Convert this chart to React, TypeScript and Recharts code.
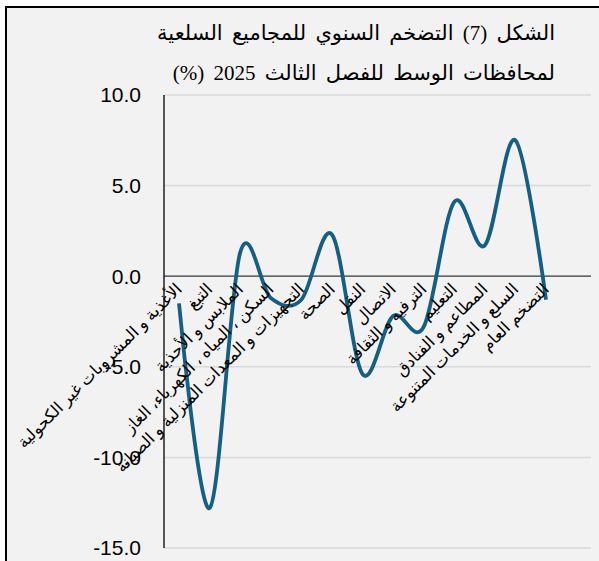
import React from "react";
import { LineChart, Line, XAxis, YAxis, CartesianGrid, ReferenceLine, ReferenceDot } from "recharts";

// categories (right-to-left reading order as in the source sheet)
const categories = [
  "الأغذية و المشروبات غير الكحولية",
  "التبغ",
  "الملابس و الأحذية",
  "السكن ، المياه ، الكهرباء، الغاز",
  "التجهيزات و المعدات المنزلية و الصيانة",
  "الصحة",
  "النقل",
  "الاتصال",
  "الترفيه و الثقافة",
  "التعليم",
  "المطاعم و الفنادق",
  "السلع و الخدمات المتنوعة",
  "التضخم العام",
];

// annual inflation (%)
const inflation = [-1.5, -12.8, 1.3, -1.2, -1.3, 2.3, -5.4, -2.2, -2.8, 4.1, 1.7, 7.5, -1.3];

const yTicks = [10, 5, 0, -5, -10, -15];

const titleLines = [
  "الشكل (7) التضخم السنوي للمجاميع السلعية",
  "لمحافظات الوسط للفصل الثالث 2025 (%)",
];

const data = categories.map((name, i) => ({ name, value: inflation[i] }));

// Excel style smoothed line (cardinal spline, tension 0)
const excelSmooth = (context: any) => {
  let x0 = NaN, x1 = NaN, x2 = NaN, y0 = NaN, y1 = NaN, y2 = NaN;
  let pt = 0;
  let line = NaN;
  const k = 1 / 6;
  const seg = (x: number, y: number) =>
    context.bezierCurveTo(x1 + k * (x2 - x0), y1 + k * (y2 - y0), x2 + k * (x1 - x), y2 + k * (y1 - y), x2, y2);
  return {
    areaStart() { line = 0; },
    areaEnd() { line = NaN; },
    lineStart() { x0 = x1 = x2 = y0 = y1 = y2 = NaN; pt = 0; },
    lineEnd() {
      if (pt === 2) context.lineTo(x2, y2);
      else if (pt === 3) seg(x1, y1);
      if (line || (line !== 0 && pt === 1)) context.closePath();
      line = 1 - line;
    },
    point(x: number, y: number) {
      x = +x; y = +y;
      if (pt === 0) { pt = 1; if (line) context.lineTo(x, y); else context.moveTo(x, y); }
      else if (pt === 1) { pt = 2; x1 = x; y1 = y; }
      else { pt = 3; seg(x, y); }
      x0 = x1; x1 = x2; x2 = x;
      y0 = y1; y1 = y2; y2 = y;
    },
  };
};

const arabicFont = '"Liberation Serif", "DejaVu Sans", serif';

const CatLabel = ({ cx, cy, text }: { cx: number; cy: number; text: string }) => {
  const ax = cx + 4;
  const ay = cy + 14;
  return (
    <text
      x={ax}
      y={ay}
      transform={`rotate(-45 ${ax} ${ay})`}
      textAnchor="end"
      fontSize={16.5}
      fontFamily={arabicFont}
      fill="#000"
    >
      {text}
    </text>
  );
};

export default function App() {
  return (
    <div style={{ position: "absolute", left: 0, top: 0, width: 599, height: 561, overflow: "hidden", background: "#fff" }}>
      <div
        style={{
          position: "absolute",
          left: 5,
          top: 6,
          width: 700,
          height: 700,
          border: "2px solid #000",
          background: "#f2f2f2",
        }}
      />
      {titleLines.map((t, i) => (
        <div
          key={i}
          style={{
            position: "absolute",
            right: 44,
            top: 21 + i * 40,
            direction: "rtl",
            whiteSpace: "nowrap",
            fontFamily: arabicFont,
            fontSize: 21,
            wordSpacing: 4,
            color: "#000",
          }}
        >
          {t}
        </div>
      ))}
      <div style={{ position: "absolute", left: 0, top: 0 }}>
        <LineChart width={599} height={561} data={data} margin={{ top: 95, right: 8, bottom: 13, left: 0 }}>
          <CartesianGrid vertical={false} stroke="#d9d9d9" strokeWidth={1.5} />
          <XAxis dataKey="name" hide padding={{ left: 15, right: 45 }} />
          <YAxis
            width={164}
            domain={[-15, 10]}
            ticks={yTicks}
            tickFormatter={(v: number) => v.toFixed(1)}
            tickLine={false}
            tickSize={0}
            tickMargin={23}
            axisLine={{ stroke: "#000", strokeWidth: 1.3 }}
            tick={{ fill: "#000", fontSize: 21, fontFamily: '"Liberation Sans", Arial, sans-serif' }}
            interval={0}
          />
          <ReferenceLine y={0} stroke="#404040" strokeWidth={1.3} />
          {categories.map((c) => (
            <ReferenceDot
              key={c}
              x={c}
              y={0}
              r={0}
              shape={(p: any) => <CatLabel cx={p.cx} cy={p.cy} text={c} />}
            />
          ))}
          <Line
            type={excelSmooth as any}
            dataKey="value"
            stroke="#156082"
            strokeWidth={3.8}
            dot={false}
            isAnimationActive={false}
          />
        </LineChart>
      </div>
    </div>
  );
}
